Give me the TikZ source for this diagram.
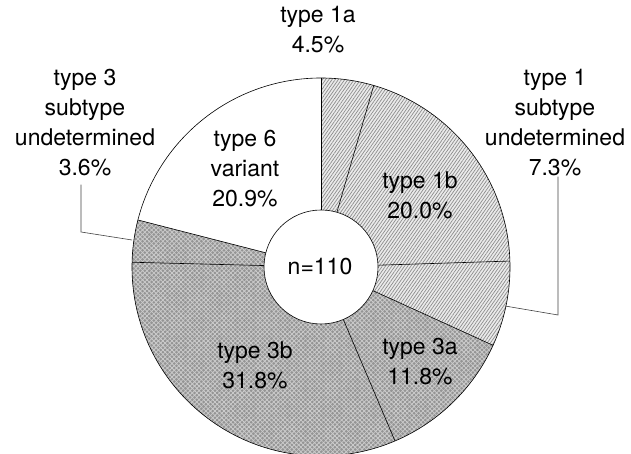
\documentclass[tikz,border=0pt]{standalone}
\usepackage{fontspec}
\setmainfont{TeX Gyre Heros}
\usetikzlibrary{patterns.meta,calc}
\begin{document}
\begin{tikzpicture}[x=1pt,y=1pt,
  lbl/.style={align=center,inner sep=0pt,font=\fontsize{23}{30}\selectfont},
  edge/.style={draw=black,line width=0.6pt},
  leader/.style={draw=black!75,line width=0.6pt},
  lightfill/.style={fill=black!8},
  lighthatch/.style={pattern={Lines[angle=55,distance=2.6pt,line width=0.7pt]},pattern color=black!45},
  darkfill/.style={fill=black!42},
  darkhatchA/.style={pattern={Lines[angle=45,distance=3.2pt,line width=0.8pt]},pattern color=white!80!black},
  darkhatchB/.style={pattern={Lines[angle=-45,distance=3.2pt,line width=0.8pt]},pattern color=white!80!black}
]
\useasboundingbox (0,0) rectangle (631,454);
\coordinate (C) at (321,187);
\def\R{189}
\def\r{57}
% light sectors (type 1 group): 90 -> -24.48
\foreach \a/\b in {90/73.8, 73.8/1.8, 1.8/-24.48}{
  \path[lightfill] (C) -- ++(\a:\R) arc[start angle=\a, end angle=\b, radius=\R] -- cycle;
  \path[lighthatch] (C) -- ++(\a:\R) arc[start angle=\a, end angle=\b, radius=\R] -- cycle;
}
% dark sectors (type 3 group)
\foreach \a/\b in {-24.48/-66.96, -66.96/-181.44, -181.44/-194.4}{
  \path[darkfill] (C) -- ++(\a:\R) arc[start angle=\a, end angle=\b, radius=\R] -- cycle;
  \path[darkhatchA] (C) -- ++(\a:\R) arc[start angle=\a, end angle=\b, radius=\R] -- cycle;
  \path[darkhatchB] (C) -- ++(\a:\R) arc[start angle=\a, end angle=\b, radius=\R] -- cycle;
}
% outer outline and radial borders
\draw[edge] (C) circle[radius=\R];
\foreach \a in {90,73.8,1.8,-24.48,-66.96,-181.44,-194.4}{
  \draw[edge] ($(C)+(\a:\r)$) -- ($(C)+(\a:\R)$);
}
% inner hole
\draw[edge,fill=white] (C) circle[radius=\r];
% labels
\node[lbl] (n) at (320,187) {n=110};
\node[lbl] (t1a) at (318,424) {type 1a\\4.5\%};
\node[lbl] (t1b) at (420,259) {type 1b\\20.0\%};
\node[lbl] (t3a) at (420,92) {type 3a\\11.8\%};
\node[lbl] (t3b) at (255,89) {type 3b\\31.8\%};
\node[lbl] (t6) at (245,285) {type 6\\variant\\20.9\%};
\node[lbl] (t1u) at (555,331) {type 1\\subtype\\undetermined\\7.3\%};
\node[lbl] (t3u) at (85,331) {type 3\\subtype\\undetermined\\3.6\%};
% leaders
\coordinate (r1) at (505,148);
\coordinate (r2) at (558,139);
\coordinate (l1) at (132,214);
\coordinate (l2) at (81,222);
\draw[leader] (r1) -- (r2) -- (r2 |- t1u.south) ++(0,-8pt) coordinate (rt);
\draw[leader] (l1) -- (l2) -- ($(l2 |- t3u.south)+(0,-8pt)$);
\end{tikzpicture}
\end{document}
